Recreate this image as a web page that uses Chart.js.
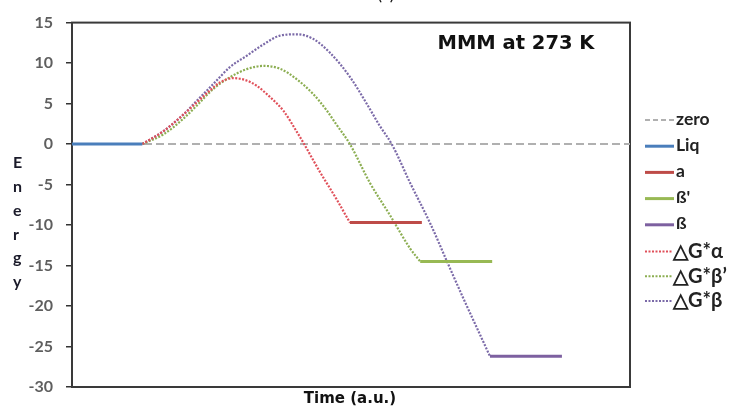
<!DOCTYPE html>
<html>
<head>
<meta charset="utf-8">
<script src="https://cdn.jsdelivr.net/npm/chart.js@4/dist/chart.umd.min.js"></script>
<style>
  html, body { margin: 0; padding: 0; background: #fff; }
  #wrap { width: 733px; height: 410px; }
</style>
</head>
<body>
<div id="wrap"><canvas id="myChart" width="733" height="410"></canvas></div>
<script>
// energy profiles (time in a.u., 0..100)
const zeroX = [0, 100];
const zeroY = [0, 0];
const liqX = [0, 12.6];
const liqY = [0, 0];
const alphaX = [49.8, 62.7];
const alphaY = [-9.7, -9.7];
const betaPrimeX = [62.4, 75.3];
const betaPrimeY = [-14.5, -14.5];
const betaX = [74.9, 87.8];
const betaY = [-26.2, -26.2];

const dgAlphaX = [12.6, 16.4, 19.9, 22.3, 24.7, 26.5, 28.9, 31.3, 33.1, 35.5, 37.9, 40.3, 41.6, 44.4, 47.4, 49.8];
const dgAlphaY = [0, 1.6, 3.6, 5.1, 6.6, 7.6, 8.15, 7.85, 7.2, 5.8, 4.1, 1.5, 0, -3.4, -6.8, -9.7];

const dgBetaPrimeX = [12.6, 16.4, 19.9, 22.3, 25.3, 28.3, 31.3, 34.3, 37.3, 40.3, 43.2, 45.6, 47.4, 49.8, 53.4, 57.0, 60.6, 62.4];
const dgBetaPrimeY = [0, 1.2, 3.1, 4.7, 6.8, 8.25, 9.25, 9.65, 9.3, 8.0, 6.2, 4.2, 2.4, 0, -4.8, -8.8, -12.9, -14.5];

const dgBetaX = [12.6, 16.4, 19.9, 22.3, 25.3, 28.3, 31.3, 34.3, 37.3, 40.3, 43.2, 46.2, 49.8, 52.8, 55.2, 57.3, 60.6, 64.2, 67.2, 70.1, 73.1, 74.9];
const dgBetaY = [0, 1.6, 3.6, 5.3, 7.4, 9.5, 10.9, 12.3, 13.4, 13.55, 13.0, 11.3, 8.3, 5.0, 2.2, 0, -4.8, -9.8, -14.5, -19.0, -23.5, -26.2];

const yTicks = [15, 10, 5, 0, -5, -10, -15, -20, -25, -30];
const yLetters = ['E', 'n', 'e', 'r', 'g', 'y'];

function pts(xs, ys) {
    return xs.map((x, i) => ({ x: x, y: ys[i] }));
}

function solid(label, xs, ys, color) {
    return { label: label, data: pts(xs, ys), borderColor: color, backgroundColor: color,
        borderWidth: 3, pointRadius: 0, tension: 0 };
}

function dotted(label, xs, ys, color) {
    return { label: label, data: pts(xs, ys), borderColor: color, backgroundColor: color,
        borderWidth: 2.2, borderDash: [2, 1.5], pointRadius: 0, cubicInterpolationMode: 'monotone' };
}

const datasets = [
    // zero line sits underneath everything else
    { label: 'zero', data: pts(zeroX, zeroY), borderColor: '#b0b0b0', borderWidth: 2,
      borderDash: [8, 4], pointRadius: 0, order: 10 },
    solid('Liq', liqX, liqY, '#4a7ebb'),
    solid('a', alphaX, alphaY, '#be4b48'),
    solid('ß\'', betaPrimeX, betaPrimeY, '#98b954'),
    solid('ß', betaX, betaY, '#7d60a0'),
    dotted('△G*α', dgAlphaX, dgAlphaY, '#e0505a'),
    dotted('△G*β’', dgBetaPrimeX, dgBetaPrimeY, '#8cae52'),
    dotted('△G*β', dgBetaX, dgBetaY, '#7b6aa8')
];

// box, titles and the side legend
const extras = {
    id: 'extras',
    beforeDatasetsDraw(chart) {
        const ctx = chart.ctx;
        const a = chart.chartArea;
        ctx.save();
        ctx.strokeStyle = '#3a3a3a';
        ctx.lineWidth = 2;
        ctx.strokeRect(a.left, a.top, a.right - a.left, a.bottom - a.top);
        ctx.restore();
    },
    afterDraw(chart) {
        const ctx = chart.ctx;
        const a = chart.chartArea;
        ctx.save();
        ctx.fillStyle = '#111';
        ctx.textBaseline = 'middle';

        ctx.font = 'bold 19.5px "DejaVu Sans"';
        ctx.textAlign = 'center';
        ctx.fillText('MMM at 273 K', 516, 44);

        ctx.font = 'bold 15px "DejaVu Sans"';
        ctx.fillText('Time (a.u.)', (a.left + a.right) / 2 - 1, 399);

        ctx.font = '18px Lato';
        ctx.textBaseline = 'alphabetic';
        ctx.fillText('(c)', 386, 0);

        ctx.textBaseline = 'middle';
        ctx.font = 'bold 16px Lato';
        ctx.textAlign = 'left';
        ctx.fillStyle = '#1b1b2a';
        yLetters.forEach((ch, i) => {
            ctx.fillText(ch, 13, 163 + i * 23.8);
        });

        // legend
        ctx.fillStyle = '#222';
        chart.data.datasets.forEach((ds, i) => {
            const big = ds.label.startsWith('△');
            const y = big ? 251.5 + (i - 5) * 24.7 : 120 + i * 26.2;
            ctx.strokeStyle = ds.borderColor;
            ctx.lineWidth = big ? 2 : (ds.borderDash ? 2 : 3);
            ctx.setLineDash(ds.borderDash ? (big ? [2, 1.5] : [5, 3]) : []);
            ctx.beginPath();
            ctx.moveTo(645, y);
            ctx.lineTo(big ? 672 : 674, y);
            ctx.stroke();
            ctx.setLineDash([]);
            ctx.font = big ? 'bold 20px Lato' : 'bold 17.5px Lato';
            ctx.fillText(ds.label, big ? 673 : 676, y + (big ? 0 : -1));
        });
        ctx.restore();
    }
};

new Chart(document.getElementById('myChart').getContext('2d'), {
    type: 'line',
    data: { datasets: datasets },
    options: {
        responsive: false,
        animation: false,
        layout: { padding: { top: 18, right: 103, left: 0, bottom: 0 } },
        plugins: {
            legend: { display: false },
            tooltip: { enabled: false }
        },
        scales: {
            x: {
                type: 'linear',
                min: 0,
                max: 100,
                ticks: { display: false },
                grid: { display: false },
                border: { display: false },
                afterFit: (s) => { s.height = 23; }
            },
            y: {
                type: 'linear',
                min: -30,
                max: 15,
                afterBuildTicks: (s) => { s.ticks = yTicks.map(v => ({ value: v })); },
                ticks: { color: '#5f5f5f', font: { family: 'Lato', size: 16, weight: 'bold' }, padding: 13 },
                grid: { drawOnChartArea: false, tickLength: 6, color: '#333', lineWidth: 1.5 },
                border: { display: false },
                afterFit: (s) => { s.width = 72; }
            }
        }
    },
    plugins: [extras]
});
</script>
</body>
</html>
